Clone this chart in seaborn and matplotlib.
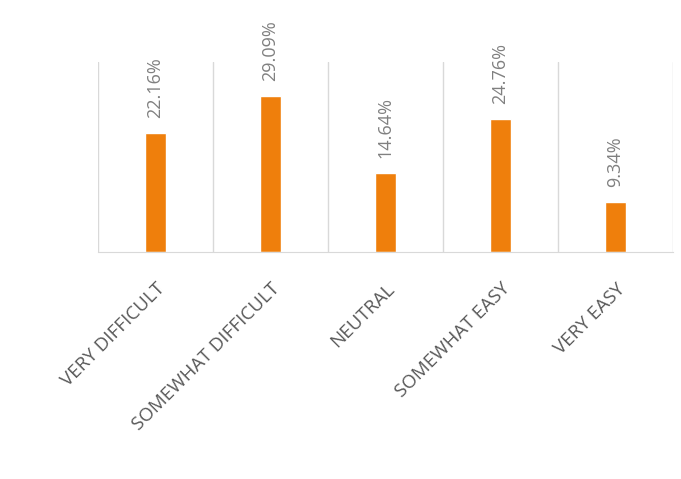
import matplotlib
matplotlib.use("Agg")
import matplotlib.pyplot as plt
import seaborn as sns
import pandas as pd

categories = ["VERY DIFFICULT", "SOMEWHAT DIFFICULT", "NEUTRAL", "SOMEWHAT EASY", "VERY EASY"]
values = [22.16, 29.09, 14.64, 24.76, 9.34]
value_labels = ["22.16%", "29.09%", "14.64%", "24.76%", "9.34%"]

sns.set_style("white")
plt.rcParams["font.family"] = ["Open Sans", "DejaVu Sans"]

df = pd.DataFrame({"cat": categories, "val": values})

fig = plt.figure(figsize=(6.81, 4.79), dpi=100)
ax = fig.add_axes([98/681, 1-252/479, (673-98)/681, (252-62)/479])

sns.barplot(data=df, x="cat", y="val", color="#EF7F0C", width=0.19, ax=ax, saturation=1)

ax.set_xlim(-0.5, len(categories) - 0.5)
ax.set_ylim(0, 35.4)

for b in [i - 0.5 for i in range(len(categories) + 1)]:
    ax.axvline(b, color="#D9D9D9", lw=1, zorder=0)

for i, (v, lab) in enumerate(zip(values, value_labels)):
    ax.annotate(lab, (i, v), xytext=(0, 11), textcoords="offset points",
                rotation=90, ha="center", va="bottom", color="#808080", fontsize=13)

for s in ["top", "right", "left"]:
    ax.spines[s].set_visible(False)
ax.spines["bottom"].set_color("#D9D9D9")
ax.set_yticks([])
ax.set_xlabel("")
ax.set_ylabel("")
ax.tick_params(axis="x", length=0, pad=20)
ax.set_xticks(range(len(categories)))
ax.set_xticklabels(categories, rotation=45, ha="right", rotation_mode="anchor",
                   color="#595959", fontsize=13.5)

fig.savefig("out.png", dpi=100)
